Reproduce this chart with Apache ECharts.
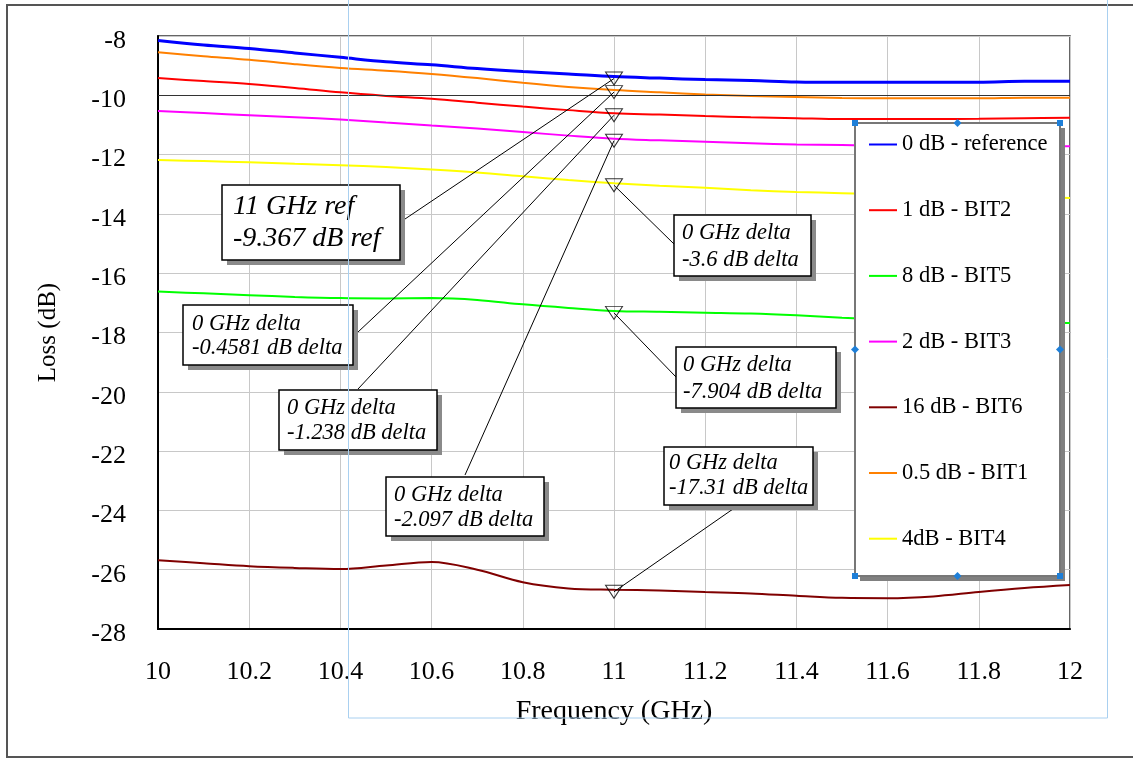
<!DOCTYPE html>
<html>
<head>
<meta charset="utf-8">
<script src="https://cdn.jsdelivr.net/npm/echarts@6/dist/echarts.min.js"></script>
<style>
  html, body { margin: 0; padding: 0; background: #fff; }
  #chart { width: 1133px; height: 759px; }
</style>
</head>
<body>
<div id="chart"></div>
<script>
// Frequency sweep points (GHz)
const freqs = [10.0, 10.1, 10.2, 10.3, 10.4, 10.5, 10.6, 10.7, 10.8, 10.9, 11.0,
               11.1, 11.2, 11.3, 11.4, 11.5, 11.6, 11.7, 11.8, 11.9, 12.0];

// Measured loss per attenuator state (dB)
const lossRef  = [-8.15, -8.30, -8.42, -8.57, -8.72, -8.87, -8.97, -9.10, -9.20, -9.28, -9.367,
                  -9.42, -9.47, -9.50, -9.55, -9.56, -9.56, -9.56, -9.56, -9.53, -9.53];
const lossBit2 = [-9.42, -9.52, -9.62, -9.75, -9.90, -10.02, -10.12, -10.25, -10.38, -10.50, -10.605,
                  -10.65, -10.70, -10.74, -10.77, -10.80, -10.80, -10.80, -10.79, -10.77, -10.76];
const lossBit5 = [-16.62, -16.68, -16.74, -16.80, -16.84, -16.85, -16.84, -16.90, -17.05, -17.17, -17.271,
                  -17.30, -17.33, -17.36, -17.42, -17.50, -17.56, -17.60, -17.63, -17.66, -17.68];
const lossBit3 = [-10.53, -10.60, -10.67, -10.74, -10.82, -10.92, -11.02, -11.12, -11.24, -11.36, -11.464,
                  -11.52, -11.57, -11.62, -11.66, -11.68, -11.70, -11.71, -11.71, -11.72, -11.72];
const lossBit6 = [-25.68, -25.78, -25.88, -25.94, -25.98, -25.86, -25.74, -26.00, -26.42, -26.63, -26.677,
                  -26.70, -26.75, -26.80, -26.88, -26.95, -26.96, -26.90, -26.75, -26.62, -26.52];
const lossBit1 = [-8.55, -8.68, -8.80, -8.95, -9.08, -9.17, -9.28, -9.42, -9.58, -9.72, -9.825,
                  -9.90, -9.97, -10.02, -10.06, -10.09, -10.10, -10.10, -10.10, -10.08, -10.08];
const lossBit4 = [-12.18, -12.22, -12.26, -12.31, -12.36, -12.42, -12.50, -12.60, -12.73, -12.86, -12.967,
                  -13.05, -13.12, -13.20, -13.26, -13.30, -13.34, -13.37, -13.40, -13.43, -13.46];

const seriesNames  = ['0 dB - reference', '1 dB - BIT2', '8 dB - BIT5', '2 dB - BIT3',
                      '16 dB - BIT6', '0.5 dB - BIT1', '4dB - BIT4'];
const seriesValues = [lossRef, lossBit2, lossBit5, lossBit3, lossBit6, lossBit1, lossBit4];
const seriesColors = ['#0000ff', '#ff0000', '#00ff00', '#ff00ff', '#800000', '#ff8000', '#ffff00'];
const seriesWidths = [3, 2, 2, 2, 2, 2, 2];

// Marker readouts at 11 GHz
const markerFreq = 11;
const refLevel   = -9.367;
const deltaNames  = ['0.5 dB - BIT1', '1 dB - BIT2', '2 dB - BIT3', '4dB - BIT4', '8 dB - BIT5', '16 dB - BIT6'];
const deltaValues = [-0.4581, -1.238, -2.097, -3.6, -7.904, -17.31];

const yTicks = { min: -28, max: -8, step: 2 };
const xTicks = { min: 10, max: 12, step: 0.2 };

const serif = '"Liberation Serif", "Times New Roman", serif';

const chart = echarts.init(document.getElementById('chart'), null, { renderer: 'canvas' });

const lineSeries = seriesNames.map((name, i) => ({
  name: name,
  type: 'line',
  data: freqs.map((f, k) => [f, seriesValues[i][k]]),
  symbol: 'none',
  smooth: 0.35,
  lineStyle: { color: seriesColors[i], width: seriesWidths[i] },
  itemStyle: { color: seriesColors[i] },
  z: 3,
  silent: true
}));

// -10 dB reference line
lineSeries[0].markLine = {
  silent: true,
  symbol: 'none',
  label: { show: false },
  lineStyle: { color: '#333', width: 1, type: 'solid' },
  data: [{ yAxis: -10 }]
};

const markerPoints = [[markerFreq, refLevel]].concat(
  deltaValues.map(d => [markerFreq, +(refLevel + d).toFixed(4)])
);

const markerSeries = {
  name: 'markers',
  type: 'scatter',
  data: markerPoints,
  symbol: 'triangle',
  symbolRotate: 180,
  symbolSize: [17, 13],
  symbolOffset: [0, 2],
  itemStyle: { color: 'rgba(255,255,255,0)', borderColor: '#000', borderWidth: 1 },
  z: 6,
  silent: true
};

chart.setOption({
  animation: false,
  backgroundColor: '#fff',
  grid: {
    left: 158, right: 63, top: 36, bottom: 130,
    show: true, borderColor: '#333', borderWidth: 1.5, backgroundColor: 'transparent'
  },
  xAxis: {
    type: 'value',
    min: xTicks.min, max: xTicks.max, interval: xTicks.step,
    name: 'Frequency (GHz)',
    nameLocation: 'middle',
    nameGap: 69,
    nameTextStyle: { fontFamily: serif, fontSize: 28, color: '#000' },
    axisLine: { show: true, lineStyle: { color: '#000', width: 2 } },
    axisTick: { show: false },
    axisLabel: {
      margin: 30, fontFamily: serif, fontSize: 26, color: '#000',
      formatter: v => String(Number(v.toFixed(1)))
    },
    splitLine: { show: true, lineStyle: { color: '#c8c8c8', width: 1 } }
  },
  yAxis: {
    type: 'value',
    min: yTicks.min, max: yTicks.max, interval: yTicks.step,
    name: 'Loss (dB)',
    nameLocation: 'middle',
    nameGap: 97,
    nameRotate: 90,
    nameTextStyle: { fontFamily: serif, fontSize: 25, color: '#000' },
    axisLine: { show: true, lineStyle: { color: '#000', width: 2 } },
    axisTick: { show: false },
    axisLabel: {
      margin: 32, fontFamily: serif, fontSize: 26, color: '#000',
      verticalAlign: 'top', lineHeight: 10
    },
    splitLine: { show: true, lineStyle: { color: '#c8c8c8', width: 1 } }
  },
  legend: {
    data: seriesNames,
    orient: 'vertical',
    left: 863,
    top: 128,
    itemWidth: 28,
    itemHeight: 14,
    itemGap: 42.7,
    selectedMode: false,
    itemStyle: { opacity: 0 },
    textStyle: { fontFamily: serif, fontSize: 22.5, color: '#000', lineHeight: 22 },
    z: 20
  },
  series: lineSeries.concat([markerSeries])
});

// Annotation boxes: layout of each readout box and where its leader line attaches
const boxes = [
  { lines: [markerFreq + ' GHz ref', refLevel + ' dB ref'], rect: [222, 185, 178, 75], font: 28,
    textX: 233, textY: [207, 239], anchor: [405, 219], marker: 0 },
  { rect: [183, 305, 170, 60], font: 22.5, textX: 192, textY: [324, 348], anchor: [358, 332], marker: 1 },
  { rect: [279, 390, 158, 60], font: 22.5, textX: 287, textY: [408, 433], anchor: [358, 389], marker: 2 },
  { rect: [386, 477, 158, 59], font: 22.5, textX: 394, textY: [495, 520], anchor: [465, 475], marker: 3 },
  { rect: [674, 215, 137, 61], font: 22.5, textX: 682, textY: [233, 260], anchor: [674, 244], marker: 4 },
  { rect: [676, 347, 160, 61], font: 22.5, textX: 683, textY: [365, 392], anchor: [676, 377], marker: 5 },
  { rect: [664, 447, 149, 58], font: 22.5, textX: 669, textY: [463, 488], anchor: [733, 509], marker: 6 }
];
boxes.forEach((b, i) => {
  if (i > 0) b.lines = ['0 GHz delta', deltaValues[i - 1] + ' dB delta'];
});

const graphics = [];

// outer frame
graphics.push({
  type: 'rect', silent: true, z: 1,
  shape: { x: 7, y: 5, width: 1140, height: 752 },
  style: { fill: 'none', stroke: '#555', lineWidth: 2 }
});

// leader lines from each marker to its readout box
boxes.forEach(b => {
  const p = chart.convertToPixel({ gridIndex: 0 }, markerPoints[b.marker]);
  graphics.push({
    type: 'line', silent: true, z: 40,
    shape: { x1: p[0], y1: p[1] + 2, x2: b.anchor[0], y2: b.anchor[1] },
    style: { stroke: '#000', lineWidth: 1 }
  });
});

// readout boxes
boxes.forEach(b => {
  const [x, y, w, h] = b.rect;
  graphics.push({
    type: 'rect', silent: true, z: 41,
    shape: { x: x + 5, y: y + 5, width: w, height: h },
    style: { fill: '#8a8a8a' }
  });
  graphics.push({
    type: 'rect', silent: true, z: 42,
    shape: { x: x, y: y, width: w, height: h },
    style: { fill: '#fff', stroke: '#000', lineWidth: 1.5 }
  });
  b.lines.forEach((t, k) => {
    graphics.push({
      type: 'text', silent: true, z: 43,
      x: b.textX, y: b.textY[k],
      style: {
        text: t, fontFamily: serif, fontSize: b.font, fontStyle: 'italic',
        fill: '#000', align: 'left', verticalAlign: 'middle'
      }
    });
  });
});

// legend frame with shadow and handles
const lg = { x: 855, y: 123, w: 205, h: 453 };
graphics.push({
  type: 'rect', silent: true, z: 10,
  shape: { x: lg.x + 5, y: lg.y + 5, width: lg.w, height: lg.h },
  style: { fill: '#808080' }
});
graphics.push({
  type: 'rect', silent: true, z: 11,
  shape: { x: lg.x, y: lg.y, width: lg.w, height: lg.h },
  style: { fill: '#fff', stroke: '#777', lineWidth: 2 }
});
const handles = [
  [lg.x, lg.y, 'sq'], [lg.x + lg.w, lg.y, 'sq'], [lg.x, lg.y + lg.h, 'sq'], [lg.x + lg.w, lg.y + lg.h, 'sq'],
  [lg.x + lg.w / 2, lg.y, 'dm'], [lg.x + lg.w / 2, lg.y + lg.h, 'dm'],
  [lg.x, lg.y + lg.h / 2, 'dm'], [lg.x + lg.w, lg.y + lg.h / 2, 'dm']
];
handles.forEach(h => {
  if (h[2] === 'sq') {
    graphics.push({
      type: 'rect', silent: true, z: 50,
      shape: { x: h[0] - 3, y: h[1] - 3, width: 6, height: 6 },
      style: { fill: '#1e7fd8' }
    });
  } else {
    graphics.push({
      type: 'polygon', silent: true, z: 50,
      shape: { points: [[h[0], h[1] - 4], [h[0] + 4, h[1]], [h[0], h[1] + 4], [h[0] - 4, h[1]]] },
      style: { fill: '#1e7fd8' }
    });
  }
});

// selection frame
graphics.push({
  type: 'rect', silent: true, z: 60,
  shape: { x: 348.5, y: -5, width: 759, height: 723 },
  style: { fill: 'none', stroke: '#a9d0f0', lineWidth: 1 }
});

chart.setOption({ graphic: { elements: graphics } });
</script>
</body>
</html>
